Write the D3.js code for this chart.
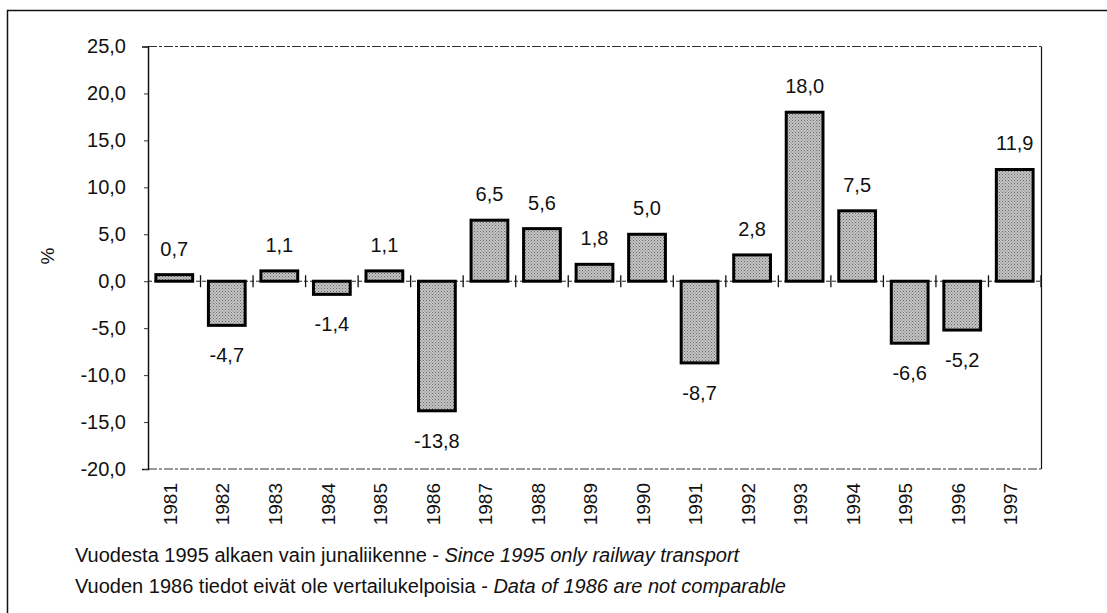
<!DOCTYPE html>
<html>
<head>
<meta charset="utf-8">
<script src="https://cdn.jsdelivr.net/npm/d3@7"></script>
<style>
  body { margin: 0; background: #fff; }
  text { font-family: "Liberation Sans", Arial, sans-serif; fill: #111; }
</style>
</head>
<body>
<svg id="chart" width="1107" height="613"></svg>
<script>
// yearly change, %
var years = ["1981","1982","1983","1984","1985","1986","1987","1988","1989","1990","1991","1992","1993","1994","1995","1996","1997"]
var values = [0.7, -4.7, 1.1, -1.4, 1.1, -13.8, 6.5, 5.6, 1.8, 5.0, -8.7, 2.8, 18.0, 7.5, -6.6, -5.2, 11.9]
var yTicks = [25, 20, 15, 10, 5, 0, -5, -10, -15, -20]
var notes = [
    ["Vuodesta 1995 alkaen vain junaliikenne - ", "Since 1995 only railway transport"],
    ["Vuoden 1986 tiedot eivät ole vertailukelpoisia - ", "Data of 1986 are not comparable"]
]

var svg = d3.select("#chart")
var margin = {left: 148, right: 1041, top: 46.5, bottom: 469}

// comma decimals, plain hyphen for minus
var fmt = function(v) { return d3.format(".1f")(v).replace(".", ",").replace("\u2212", "-") }

// stipple fill for the bars
var defs = svg.append("defs")
var pat = defs.append("pattern")
    .attr("id", "stip")
    .attr("width", 3).attr("height", 3)
    .attr("patternUnits", "userSpaceOnUse")
pat.append("rect").attr("width", 3).attr("height", 3).attr("fill", "#c4c4c4")
pat.append("rect").attr("width", 1).attr("height", 1).attr("fill", "#6a6a6a")
pat.append("rect").attr("x", 1.5).attr("y", 1.5).attr("width", 1).attr("height", 1).attr("fill", "#7a7a7a")

// outer frame
svg.append("path")
    .attr("d", "M7.5,700 V10.5 H1200")
    .attr("fill", "none").attr("stroke", "#111").attr("stroke-width", 1.5)

var x = d3.scaleBand()
    .domain(years)
    .range([margin.left, margin.right])
    .paddingInner(0.3)
    .paddingOuter(0.15)

var y = d3.scaleLinear()
    .domain([-20, 25])
    .range([margin.bottom, margin.top])

// plot box
svg.append("line")
    .attr("x1", margin.left).attr("x2", margin.right)
    .attr("y1", margin.top).attr("y2", margin.top)
    .attr("stroke", "#333").attr("stroke-width", 1).attr("stroke-dasharray", "9,2,3,2")
svg.append("line")
    .attr("x1", margin.left).attr("x2", margin.right)
    .attr("y1", margin.bottom).attr("y2", margin.bottom)
    .attr("stroke", "#333").attr("stroke-width", 1).attr("stroke-dasharray", "9,2,3,2")
svg.append("line")
    .attr("x1", margin.right + 0.5).attr("x2", margin.right + 0.5)
    .attr("y1", margin.top).attr("y2", margin.bottom)
    .attr("stroke", "#111").attr("stroke-width", 1.2)

// y axis
var yAxis = d3.axisLeft(y)
    .tickValues(yTicks)
    .tickFormat(fmt)
    .tickSize(6)
    .tickPadding(16)
var gy = svg.append("g")
    .attr("transform", "translate(" + margin.left + ",0)")
    .call(yAxis)
gy.select(".domain").attr("stroke", "#111").attr("stroke-width", 1.5)
gy.selectAll(".tick line").attr("stroke", "#333").attr("stroke-dasharray", "4,2")
gy.selectAll(".tick text")
    .style("font-size", "20px")
    .style("font-family", "'Liberation Sans', Arial, sans-serif")
    .attr("fill", "#111")

svg.append("text")
    .attr("transform", "translate(47,256) rotate(-90)")
    .attr("text-anchor", "middle")
    .attr("dy", "0.35em")
    .style("font-size", "19px")
    .text("%")

// zero line with category separators
svg.append("line")
    .attr("x1", margin.left).attr("x2", margin.right)
    .attr("y1", y(0)).attr("y2", y(0))
    .attr("stroke", "#222").attr("stroke-width", 1).attr("stroke-dasharray", "4,2")

var step = x.step()
var seps = years.slice(1).map(function(d) { return x(d) - (step - x.bandwidth()) / 2 })
seps.push(margin.right)
svg.append("g").selectAll("line")
    .data(seps)
    .join("line")
    .attr("x1", function(d) { return d }).attr("x2", function(d) { return d })
    .attr("y1", y(0) - 6).attr("y2", y(0) + 6)
    .attr("stroke", "#111").attr("stroke-width", 1.3)

// bars
svg.append("g").selectAll("rect")
    .data(values)
    .join("rect")
    .attr("x", function(d, i) { return x(years[i]) })
    .attr("width", x.bandwidth())
    .attr("y", function(d) { return d >= 0 ? y(d) : y(0) })
    .attr("height", function(d) { return Math.abs(y(d) - y(0)) })
    .attr("fill", "url(#stip)")
    .attr("stroke", "#000")
    .attr("stroke-width", 3)

// value labels
svg.append("g").selectAll("text")
    .data(values)
    .join("text")
    .attr("x", function(d, i) { return x(years[i]) + x.bandwidth() / 2 })
    .attr("y", function(d) { return d >= 0 ? y(d) - 19 : y(d) + 37 })
    .attr("text-anchor", "middle")
    .style("font-size", "20px")
    .text(fmt)

// year labels
svg.append("g").selectAll("text")
    .data(years)
    .join("text")
    .attr("transform", function(d) {
        return "translate(" + (x(d) + x.bandwidth() / 2 - 4) + ",483) rotate(-90)"
    })
    .attr("text-anchor", "end")
    .attr("dy", "0.35em")
    .style("font-size", "19px")
    .text(function(d) { return d })

// footnotes
var nt = svg.append("g").selectAll("text")
    .data(notes)
    .join("text")
    .attr("x", 75)
    .attr("y", function(d, i) { return 562 + i * 31 })
    .style("font-size", "20px")
nt.append("tspan").text(function(d) { return d[0] })
nt.append("tspan").style("font-style", "italic").text(function(d) { return d[1] })
</script>
</body>
</html>
